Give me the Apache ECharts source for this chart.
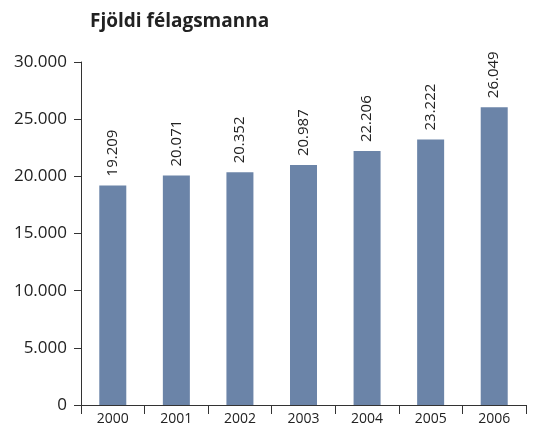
<!DOCTYPE html>
<html lang="is">
<head>
    <meta charset="utf-8" />
    <title>Fjöldi félagsmanna</title>
    <script type="text/javascript" src="https://cdn.jsdelivr.net/npm/echarts@6/dist/echarts.min.js"></script>
    <style type="text/css">
        body { margin: 0; background: #fff; }
    </style>
</head>
<body>
    <div id="main" style="width:537px;height:438px;"></div>
    <script type="text/javascript">
        var years = ['2000', '2001', '2002', '2003', '2004', '2005', '2006'];
        var members = [19209, 20071, 20352, 20987, 22206, 23222, 26049];
        var yTicks = [0, 5000, 10000, 15000, 20000, 25000, 30000];

        function fmt(v) {
            return String(v).replace(/\B(?=(\d{3})+(?!\d))/g, '.');
        }

        var myChart = echarts.init(document.getElementById('main'));
        var font = '"Open Sans", "Noto Sans", sans-serif';

        var option = {
            animation: false,
            title: {
                text: 'Fjöldi félagsmanna',
                left: 85,
                top: 7,
                textStyle: { fontFamily: font, fontSize: 19, fontWeight: 'bold', color: '#222' }
            },
            grid: { left: 81, right: 11, top: 62, bottom: 33 },
            xAxis: {
                type: 'category',
                data: years,
                axisLine: { lineStyle: { color: '#333', width: 1 } },
                axisTick: { show: true, length: 9, lineStyle: { color: '#333' } },
                axisLabel: { fontFamily: font, fontSize: 14, color: '#222', margin: 7 }
            },
            yAxis: {
                type: 'value',
                min: yTicks[0],
                max: yTicks[yTicks.length - 1],
                interval: 5000,
                splitLine: { show: false },
                axisLine: { show: true, lineStyle: { color: '#333', width: 1 } },
                axisTick: { show: true, length: 7, lineStyle: { color: '#333' } },
                axisLabel: {
                    fontFamily: font, fontSize: 17, color: '#222', margin: 14,
                    formatter: function (v) { return v === 0 ? '0' : fmt(v); }
                }
            },
            series: [{
                type: 'bar',
                data: members,
                barWidth: 27,
                itemStyle: { color: '#6b84a8' },
                label: {
                    show: true,
                    position: 'top',
                    rotate: 90,
                    align: 'left',
                    verticalAlign: 'middle',
                    distance: 9,
                    fontFamily: font,
                    fontSize: 15,
                    color: '#222',
                    formatter: function (p) { return fmt(p.value); }
                }
            }]
        };
        myChart.setOption(option);
    </script>
</body>
</html>
